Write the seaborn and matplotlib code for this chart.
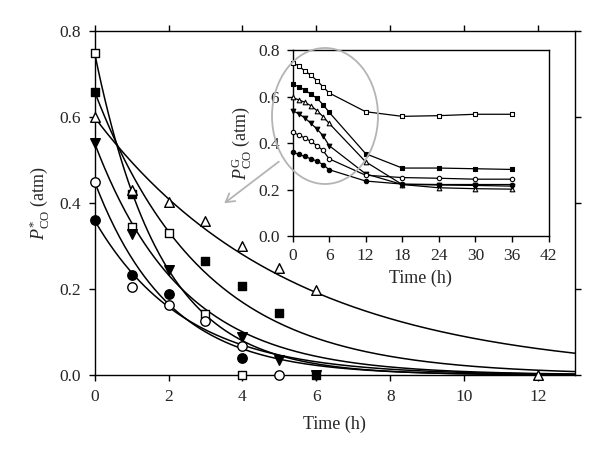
import numpy as np
import pandas as pd
import matplotlib
matplotlib.use("Agg")
import matplotlib.pyplot as plt
import seaborn as sns
from matplotlib.patches import Ellipse, FancyArrowPatch

sns.set_theme(style="ticks")
plt.rcParams["font.family"] = ["Liberation Serif", "DejaVu Serif"]
plt.rcParams["mathtext.fontset"] = "custom"
plt.rcParams["mathtext.rm"] = "Liberation Serif"
plt.rcParams["mathtext.it"] = "Liberation Serif:italic"

# ---------------- data: main panel (measured points) ----------------
series_names = ["open_square", "filled_square", "open_triangle",
                "filled_down_triangle", "open_circle", "filled_circle"]

t_open_square = [0, 1, 2, 3, 4]
p_open_square = [0.75, 0.345, 0.33, 0.143, 0.0]
t_filled_square = [0, 1, 3, 4, 5, 6]
p_filled_square = [0.66, 0.422, 0.266, 0.208, 0.145, 0.0]
t_open_triangle = [0, 1, 2, 3, 4, 5, 6, 12]
p_open_triangle = [0.60, 0.432, 0.403, 0.358, 0.30, 0.25, 0.198, 0.0]
t_filled_down_triangle = [0, 1, 2, 4, 5, 6]
p_filled_down_triangle = [0.54, 0.328, 0.245, 0.088, 0.035, 0.0]
t_open_circle = [0, 1, 2, 3, 4, 5]
p_open_circle = [0.45, 0.205, 0.164, 0.125, 0.068, 0.0]
t_filled_circle = [0, 1, 2, 4]
p_filled_circle = [0.36, 0.233, 0.188, 0.039]

# fitted first-order decay parameters (P0, k)
fit_p0 = [0.75, 0.66, 0.60, 0.54, 0.45, 0.36]
fit_k = [0.56, 0.34, 0.19, 0.42, 0.50, 0.41]

# ---------------- data: inset (gas phase) ----------------
t_inset = [0, 1, 2, 3, 4, 5, 6, 12, 18, 24, 30, 36]
g_open_square = [0.748, 0.734, 0.712, 0.694, 0.670, 0.644, 0.617, 0.536, 0.516, 0.519, 0.525, 0.525]
g_filled_square = [0.655, 0.644, 0.630, 0.612, 0.594, 0.567, 0.534, 0.355, 0.293, 0.293, 0.290, 0.287]
g_open_triangle = [0.598, 0.587, 0.577, 0.562, 0.541, 0.515, 0.486, 0.320, 0.222, 0.208, 0.204, 0.202]
g_filled_down_triangle = [0.541, 0.527, 0.510, 0.486, 0.462, 0.433, 0.390, 0.268, 0.222, 0.220, 0.218, 0.215]
g_open_circle = [0.448, 0.436, 0.423, 0.408, 0.390, 0.369, 0.333, 0.262, 0.252, 0.249, 0.245, 0.245]
g_filled_circle = [0.362, 0.352, 0.343, 0.333, 0.323, 0.308, 0.286, 0.237, 0.224, 0.222, 0.222, 0.222]

main_t = [t_open_square, t_filled_square, t_open_triangle,
          t_filled_down_triangle, t_open_circle, t_filled_circle]
main_p = [p_open_square, p_filled_square, p_open_triangle,
          p_filled_down_triangle, p_open_circle, p_filled_circle]
inset_g = [g_open_square, g_filled_square, g_open_triangle,
           g_filled_down_triangle, g_open_circle, g_filled_circle]

markers = ["s", "s", "^", "v", "o", "o"]
faces = ["white", "black", "white", "black", "white", "black"]
sizes_main = [40, 40, 48, 48, 46, 46]
sizes_inset = [9, 9, 11, 11, 10, 10]

fig = plt.figure(figsize=(6.0, 4.65), dpi=100)
ax = fig.add_axes([0.1577, 0.1935, 0.8006, 0.7388])

# fitted curves
t_curve = np.linspace(0, 13.5, 300)
for p0, k in zip(fit_p0, fit_k):
    df = pd.DataFrame({"t": t_curve, "p": p0 * np.exp(-k * t_curve)})
    sns.lineplot(data=df, x="t", y="p", color="black", lw=1.1, ax=ax,
                 legend=False, zorder=2)

# measured points
for tt, pp, m, fc, s in zip(main_t, main_p, markers, faces, sizes_main):
    sns.scatterplot(x=tt, y=pp, marker=m, color=fc, edgecolor="black",
                    linewidth=1.0, s=s, ax=ax, zorder=4, clip_on=False,
                    legend=False)

ax.set_xlim(0, 13)
ax.set_ylim(0, 0.8)
ax.set_xticks(np.arange(0, 13, 2))
ax.set_yticks(np.arange(0, 0.81, 0.2))
ax.set_yticklabels([f"{v:.1f}" for v in np.arange(0, 0.81, 0.2)])
ax.tick_params(direction="out", length=4, width=1, labelsize=12.5, color="black",
               top=True, right=True, labeltop=False, labelright=False, pad=6)
for sp in ax.spines.values():
    sp.set_color("black")
    sp.set_linewidth(1.0)
ax.set_xlabel("Time (h)", fontsize=13, labelpad=8)
ax.set_ylabel(r"$P^{*}_{\mathrm{CO}}$ (atm)", fontsize=13, labelpad=6)

# inset
axi = fig.add_axes([0.4875, 0.4925, 0.4267, 0.3989])
axi.set_facecolor("white")
for gg, m, fc, s in zip(inset_g, markers, faces, sizes_inset):
    sns.lineplot(x=t_inset, y=gg, color="black", lw=0.9, ax=axi, legend=False,
                 zorder=2)
    sns.scatterplot(x=t_inset, y=gg, marker=m, color=fc, edgecolor="black",
                    linewidth=0.8, s=s, ax=axi, zorder=3, clip_on=False,
                    legend=False)
axi.set_xlim(0, 42)
axi.set_ylim(0, 0.8)
axi.set_xticks(np.arange(0, 43, 6))
axi.set_yticks(np.arange(0, 0.81, 0.2))
axi.set_yticklabels([f"{v:.1f}" for v in np.arange(0, 0.81, 0.2)])
axi.tick_params(direction="out", length=4, width=1, labelsize=12.5, color="black",
                pad=5)
for sp in axi.spines.values():
    sp.set_color("black")
    sp.set_linewidth(1.0)
axi.set_xlabel("Time (h)", fontsize=13, labelpad=4)
axi.set_ylabel(r"$P^{\mathrm{G}}_{\mathrm{CO}}$ (atm)", fontsize=13, labelpad=4)

# highlight ellipse and arrow
ell = Ellipse((325 / 600, 1 - 116 / 465), 106 / 600, 136 / 465,
              transform=fig.transFigure, fill=False, edgecolor="#b4b4b4",
              lw=1.3, zorder=10)
fig.add_artist(ell)
arr = FancyArrowPatch((281 / 600, 1 - 160 / 465), (222 / 600, 1 - 205 / 465),
                      transform=fig.transFigure, arrowstyle="->,head_length=6,head_width=3.5",
                      color="#b4b4b4", lw=1.3, zorder=10)
fig.add_artist(arr)

fig.savefig("out.png", dpi=100)
